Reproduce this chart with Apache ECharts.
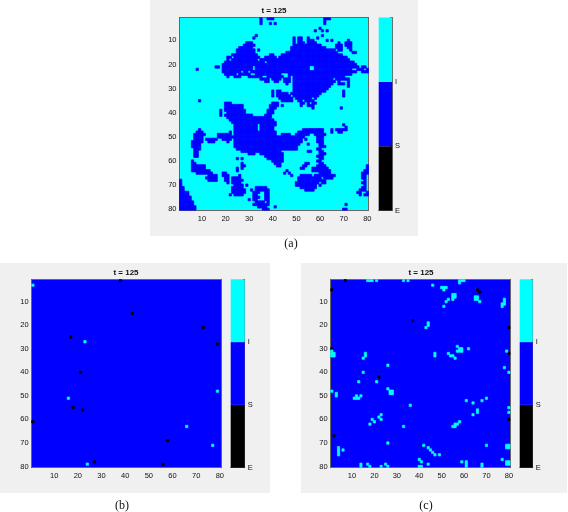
<!DOCTYPE html>
<html>
<head>
<meta charset="utf-8">
<style>
    html, body { margin: 0; padding: 0; background: #fff; }
    #chart { width: 568px; height: 512px; }
</style>
<script src="https://cdn.jsdelivr.net/npm/echarts@6/dist/echarts.min.js"></script>
</head>
<body>
<div id="chart"></div>
<script>
// Lattice size and labels
const SIZE = 80;
const stateNames = ['E', 'S', 'I'];
const stateColors = ['#000000', '#0000ff', '#00ffff'];

// Panel (a): cells in state S, one line per lattice row, rest of the row is I
const panelASusceptible = [
    '35 38-40 62-64', '35 62', '35 39 41 62', '', '60', '58 61 63', '', '33 61',
    '32 49 51-52 55 59', '49 51-52 55-57 63 65 72', '29-31 49 51-53 55-58 68 71-73', '28-32 49-60 67-69 71-73',
    '26-31 48-62 67-69 72-73', '25-32 34 48-66 68-69 73', '25-32 46-67 74-75', '23-33 39-40 44-69',
    '21-22 24-34 37-41 43-71', '21 23-33 35-41 42-72', '20-36 38-74', '19-75',
    '16-17 19-31 33-55 58-76 78-79', '8 19-31 33-55 58-73 76-78 80', '19-26 28-29 31-75 78-80', '20-24 26-30 33-43 47-73',
    '21 24-26 30-35 38-44 47 49-70', '35-38 40-43 45-47 49-65 67-72', '37-38 41-42 45-47 49-66 68 72', '46 49-65 68-70 72',
    '49-64 72', '49-63', '40 42-43 49-62 70', '40 42-46 48-60 70',
    '40 42-47 49-59 70', '43-48 50-56 58', '9 44-48 51-52 54-57', '20-22 40-42 52-53 55 57-58',
    '20-27 39-42 44 52 55-57', '20-27 39-41 57 69', '18 20-28 38-40', '18 21-28 38-40',
    '18 20-31 37-39', '21-39', '22-40', '23-41',
    '24-33 35-41 70', '24-33 35-40 71', '9 24-33 35-40 53-61 65 67-71', '8-10 22 24-41 51-61 65 68-69',
    '7-11 17-22 24-41 44-47 50-55 58-62', '7-10 17-22 23-53 59-61', '7-10 12-16 19-22 24-52 54 59-61', '6-10 13-15 21 24-52 59-61',
    '6-9 24-51 55 60-61', '6-9 24-50 60-62', '7-9 25-50 59-60', '7-8 27-43 55-56 60-61',
    '7-8 30-32 35-44 60-62', '7-8 37-44 59-61', '25 27 38-44 60-61', '6 40-44 59-60',
    '6-7 27 41-43 54-55 60-61', '6-11 27-28 42-43 53-54 59-62 80', '6-11 25 27 52-53 57-63 80', '6-13 25 46 57-64 79-80',
    '8-14 19-20 45 47 60-64 78-80', '13-16 19-21 26 48 52-56 58-66 78-79', '12-16 20-21 23-26 51-60 62-65 78-79', '1 13-16 20-21 23-27 51-62 79',
    '1 21 23-26 50-59 61-62 78-79', '1 24-27 29 50-58 60 79', '1-2 23-27 33-37 52-58 78-79', '1-2 23-28 31 33-38 54-57 77-79',
    '1-4 23-28 32-34 37-38 76-77 80', '1-4 22 24-27 32-33 37-38 77 79-80', '1-5 32-34 37-38', '1-5 30 32-33 37-38',
    '1-6 33-36 38', '1-6 32-38 71', '1-7 34-37 41', '1-7 36-38 70-71'
];

// Panel (b): mostly S, [column, row] of the odd cells
const panelBExposed = [
    [38, 1], [43, 15], [73, 21], [17, 25], [79, 28], [21, 40], [18, 55], [22, 56],
    [58, 69], [27, 78], [56, 79], [1, 61]
];
const panelBInfected = [
    [1, 3], [23, 27], [16, 51], [79, 48], [66, 63], [77, 71], [24, 79]
];

// Panel (c): mostly S, [column, row] of the odd cells
const panelCExposed = [
    [7, 1], [1, 5], [66, 5], [67, 6], [37, 18], [80, 21], [1, 30], [80, 32],
    [22, 42], [80, 60], [2, 67]
];
const panelCInfected = [
    [17, 1], [18, 1], [19, 1], [21, 1], [33, 1], [35, 1], [58, 1], [59, 1], [60, 1], [58, 2],
    [46, 3], [50, 4], [51, 4], [52, 4], [51, 5], [55, 7], [56, 7], [55, 8], [56, 8], [55, 9],
    [53, 9], [52, 10], [51, 12], [65, 8], [66, 8], [65, 9], [66, 9], [67, 10], [78, 9], [78, 10],
    [77, 11], [78, 11], [77, 12], [44, 19], [44, 20], [43, 21],
    [57, 29], [58, 30], [59, 30], [58, 31], [59, 31], [57, 31], [62, 30], [53, 32], [54, 33], [55, 33], [56, 34],
    [47, 32], [47, 33], [79, 31], [1, 31], [1, 32], [2, 32], [1, 33], [2, 33], [16, 32], [16, 33], [15, 34],
    [26, 37], [78, 38], [80, 40], [15, 40], [13, 44], [21, 44], [26, 47], [27, 48], [28, 48], [27, 49], [28, 49],
    [1, 48], [3, 49], [3, 50], [11, 51], [12, 51], [13, 51], [12, 50], [14, 50],
    [36, 54], [61, 52], [64, 53], [68, 52], [70, 51], [66, 56], [66, 57], [64, 58], [80, 55], [80, 57],
    [23, 58], [22, 59], [23, 60], [19, 60], [20, 61], [18, 62], [33, 63], [58, 61], [56, 62], [57, 62], [55, 63], [56, 63],
    [26, 70], [42, 71], [44, 72], [45, 73], [46, 74], [47, 75], [49, 75], [70, 71], [79, 71], [80, 71], [79, 72], [80, 72],
    [4, 72], [4, 73], [4, 74], [4, 75], [6, 73], [77, 77], [79, 78], [80, 78], [79, 79], [80, 79],
    [40, 77], [41, 78], [40, 80], [41, 80], [44, 79], [59, 78], [61, 78], [61, 79], [61, 80], [68, 79], [68, 80],
    [14, 79], [14, 80], [17, 79], [18, 80], [23, 80], [25, 79], [26, 80]
];

// Panel layout in page pixels
const panels = [
    { box: [150, 0, 268, 236], plot: [179.5, 17.5, 189, 193], bar: [378.7, 13.4], caption: ['(a)', 291, 244], titleX: 274, titleY: 11, base: 2 },
    { box: [0, 263, 270, 230], plot: [31.7, 279.3, 189.3, 188.4], bar: [230.7, 14], caption: ['(b)', 122, 506], titleX: 126, titleY: 273, base: 1 },
    { box: [301, 263, 266, 230], plot: [330.7, 279.3, 179.3, 188.4], bar: [519.7, 13], caption: ['(c)', 426, 506], titleX: 421, titleY: 273, base: 1 }
];

function parseSpans(text) {
    if (!text) return [];
    return text.split(' ').map(part => {
        const ends = part.split('-').map(Number);
        return [ends[0], ends.length > 1 ? ends[1] : ends[0]];
    });
}

// cells differing from the panel's base colour, as [column index, row index, state]
function buildPanelA() {
    const cells = [];
    panelASusceptible.forEach((line, r) => {
        parseSpans(line).forEach(([from, to]) => {
            for (let c = from; c <= to; c++) cells.push([c - 1, r, 1]);
        });
    });
    return cells;
}

function buildSparse(exposed, infected) {
    return exposed.map(([c, r]) => [c - 1, r - 1, 0])
        .concat(infected.map(([c, r]) => [c - 1, r - 1, 2]));
}

const panelCells = [
    buildPanelA(),
    buildSparse(panelBExposed, panelBInfected),
    buildSparse(panelCExposed, panelCInfected)
];

const axisNumbers = [];
for (let i = 1; i <= SIZE; i++) axisNumbers.push(String(i));
const everyTenth = (index) => (index + 1) % 10 === 0;
const frameLine = { lineStyle: { color: '#666', width: 1 } };
const labelFont = { fontFamily: 'Liberation Sans', fontSize: 7.5, color: '#111' };

function renderCell(params, api) {
    const center = api.coord([api.value(0), api.value(1)]);
    const size = api.size([1, 1]);
    const color = stateColors[api.value(2)];
    return {
        type: 'rect',
        shape: { x: center[0] - size[0] / 2, y: center[1] - size[1] / 2, width: size[0], height: size[1] },
        style: { fill: color, stroke: color, lineWidth: 0.7 }
    };
}

const grids = [], xAxes = [], yAxes = [], series = [], graphics = [];

panels.forEach((p, i) => {
    graphics.push({
        type: 'rect', z: -1, silent: true,
        shape: { x: p.box[0], y: p.box[1], width: p.box[2], height: p.box[3] },
        style: { fill: '#f0f0f0' }
    });
    graphics.push({
        type: 'text', x: p.titleX, y: p.titleY,
        style: { text: 't = 125', fill: '#111', font: 'bold 8px "Liberation Sans"', textAlign: 'center', textVerticalAlign: 'middle' }
    });
    graphics.push({
        type: 'text', x: p.caption[1], y: p.caption[2],
        style: { text: p.caption[0], fill: '#111', font: '12px "Liberation Serif"', textAlign: 'center', textVerticalAlign: 'middle' }
    });

    // lattice grid
    grids.push({
        left: p.plot[0], top: p.plot[1], width: p.plot[2], height: p.plot[3],
        show: true, borderWidth: 0, backgroundColor: stateColors[p.base]
    });
    const gridIndex = grids.length - 1;
    const baseX = xAxes.length;
    const baseY = yAxes.length;
    const tick = { inside: true, length: 2, alignWithLabel: true, interval: everyTenth, lineStyle: { color: '#555' } };

    xAxes.push({
        type: 'category', gridIndex, data: axisNumbers, position: 'bottom',
        axisLine: { show: true, onZero: false, ...frameLine }, axisTick: tick,
        axisLabel: { ...labelFont, interval: everyTenth, margin: 4, hideOverlap: false },
        splitLine: { show: false }
    });
    xAxes.push({
        type: 'category', gridIndex, data: axisNumbers, position: 'top',
        axisLine: { show: true, onZero: false, ...frameLine }, axisTick: tick,
        axisLabel: { show: false }, splitLine: { show: false }
    });
    yAxes.push({
        type: 'category', gridIndex, data: axisNumbers, inverse: true, position: 'left',
        axisLine: { show: true, onZero: false, ...frameLine }, axisTick: tick,
        axisLabel: { ...labelFont, interval: everyTenth, margin: 3, hideOverlap: false },
        splitLine: { show: false }
    });
    yAxes.push({
        type: 'category', gridIndex, data: axisNumbers, inverse: true, position: 'right',
        axisLine: { show: true, onZero: false, ...frameLine }, axisTick: tick,
        axisLabel: { show: false }, splitLine: { show: false }
    });
    series.push({
        type: 'custom', name: 'panel' + i, xAxisIndex: baseX, yAxisIndex: baseY,
        data: panelCells[i], renderItem: renderCell, progressive: 0, animation: false,
        encode: { x: 0, y: 1 }, silent: true, clip: true
    });

    // colour bar
    grids.push({ left: p.bar[0], top: p.plot[1], width: p.bar[1], height: p.plot[3] });
    const barGrid = grids.length - 1;
    const barX = xAxes.length;
    const barY = yAxes.length;
    xAxes.push({
        type: 'category', gridIndex: barGrid, data: ['state'],
        axisLine: { show: true, ...frameLine }, axisTick: { show: false }, axisLabel: { show: false }
    });
    yAxes.push({
        type: 'value', gridIndex: barGrid, position: 'right', min: 0, max: 3, interval: 1,
        axisLine: { show: true, onZero: false, ...frameLine },
        axisTick: { show: true, inside: true, length: 2, lineStyle: { color: '#555' } },
        axisLabel: { ...labelFont, margin: 3, formatter: (v) => stateNames[v] || '' },
        splitLine: { show: false }
    });
    stateNames.forEach((name, s) => {
        series.push({
            type: 'bar', name, stack: 'bar' + i, xAxisIndex: barX, yAxisIndex: barY,
            data: [1], barWidth: '100%', itemStyle: { color: stateColors[s] },
            animation: false, silent: true
        });
    });
});

const chart = echarts.init(document.getElementById('chart'), null, { renderer: 'canvas' });
chart.setOption({
    backgroundColor: '#ffffff',
    animation: false,
    grid: grids,
    xAxis: xAxes,
    yAxis: yAxes,
    graphic: graphics,
    series: series
});
</script>
</body>
</html>
